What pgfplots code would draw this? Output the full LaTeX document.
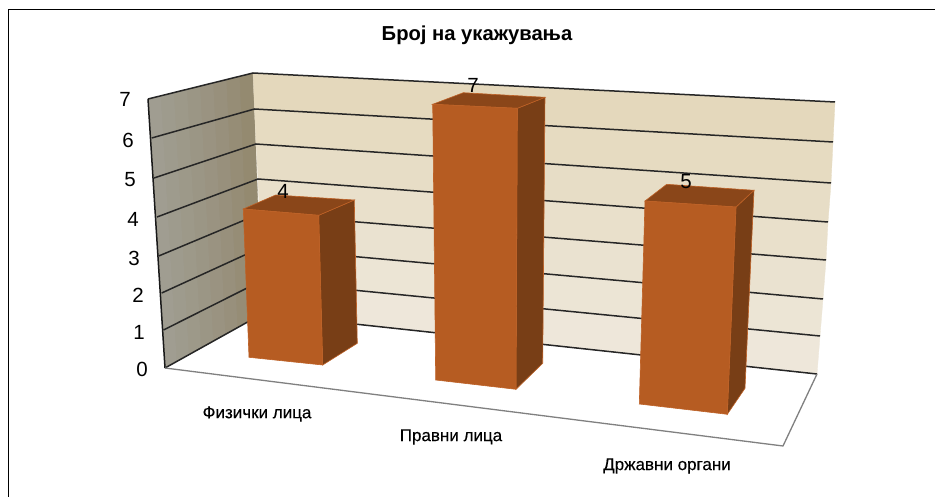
\documentclass[border=0pt]{standalone}
\usepackage{fontspec}
\setmainfont{Liberation Sans}
\newfontfamily\cf[FakeBold=0.25]{Liberation Sans}
\usepackage{pgfplots}
\pgfplotsset{compat=1.18}
\definecolor{barF}{RGB}{182,92,34}
\definecolor{barS}{RGB}{120,62,22}
\definecolor{barT}{RGB}{138,70,25}
\definecolor{barE}{RGB}{190,97,38}
\definecolor{lA}{RGB}{160,157,145}
\definecolor{lB}{RGB}{158,155,141}
\definecolor{lC}{RGB}{157,153,137}
\definecolor{lD}{RGB}{155,150,133}
\definecolor{lE}{RGB}{154,147,129}
\definecolor{lF}{RGB}{152,144,124}
\definecolor{lG}{RGB}{150,141,118}
\definecolor{lH}{RGB}{148,138,112}
\definecolor{bA}{RGB}{228,216,188}
\definecolor{bB}{RGB}{230,219,193}
\definecolor{bC}{RGB}{231,221,198}
\definecolor{bD}{RGB}{233,224,203}
\definecolor{bE}{RGB}{234,226,208}
\definecolor{bF}{RGB}{236,229,213}
\definecolor{bG}{RGB}{238,231,218}
\newcommand{\poly}[2]{\addplot[draw=#1,line width=0.3pt,fill=#1,forget plot] coordinates {#2} -- cycle;}
\newcommand{\barface}[2]{\addplot[draw=barE,line width=0.6pt,fill=#1,forget plot] coordinates {#2} -- cycle;}
\newcommand{\seg}[2]{\addplot[#1,forget plot,no marks] coordinates {#2};}
\begin{document}
\begin{tikzpicture}
\begin{axis}[
  scale only axis, width=935pt, height=497pt,
  xmin=0, xmax=935, ymin=0, ymax=497, y dir=reverse,
  hide axis, clip=true]
% page background, keeps the full picture size
\path[fill=white] (axis cs:0,0) rectangle (axis cs:935,497);
% left wall strips
\poly{lA}{(148,99)(161.6,95.75)(177.6,361.25)(165,368)}
\poly{lB}{(161.1,95.75)(174.75,92.5)(189.75,354.5)(177.1,361.25)}
\poly{lC}{(174.25,92.5)(187.9,89.25)(201.9,347.75)(189.25,354.5)}
\poly{lD}{(187.4,89.25)(201,86)(214,341)(201.4,347.75)}
\poly{lE}{(200.5,86)(214.1,82.75)(226.1,334.25)(213.5,341)}
\poly{lF}{(213.6,82.75)(227.25,79.5)(238.25,327.5)(225.6,334.25)}
\poly{lG}{(226.75,79.5)(240.4,76.25)(250.4,320.75)(237.75,327.5)}
\poly{lH}{(239.9,76.25)(253,73)(262,314)(249.9,320.75)}
% back wall bands
\poly{bA}{(253,73)(835,102)(833,142)(254.5,109)}
\poly{bB}{(254.5,109)(833,142)(831,183)(256,144)}
\poly{bC}{(256,144)(831,183)(828,222)(258,179)}
\poly{bD}{(258,179)(828,222)(826,260)(259,214)}
\poly{bE}{(259,214)(826,260)(823,299)(260,248)}
\poly{bF}{(260,248)(823,299)(820,336)(261,281)}
\poly{bG}{(261,281)(820,336)(817,374)(262,314)}
% gridlines
\seg{black!85,line width=1.5pt}{(148,99)(253,73)(835,102)}
\seg{black!85,line width=1.5pt}{(151.7,138)(254.5,109)(833,142)}
\seg{black!85,line width=1.5pt}{(154,178)(256,144)(831,183)}
\seg{black!85,line width=1.5pt}{(157,217)(258,179)(828,222)}
\seg{black!85,line width=1.5pt}{(158.7,256)(259,214)(826,260)}
\seg{black!85,line width=1.5pt}{(161.7,293)(260,248)(823,299)}
\seg{black!85,line width=1.5pt}{(163.5,330)(261,281)(820,336)}
\seg{black!85,line width=1.5pt}{(165,368)(262,314)(817,374)}
\seg{black!90,line width=1.5pt}{(148,99)(165,368)}
% floor
\seg{black!50,line width=1.3pt}{(165,368)(783,446)(817,374)}
% bars: value 4
\barface{barS}{(318.7,215.3)(354.3,200)(357.3,343.3)(322.7,365)}
\barface{barT}{(243.3,209)(275.7,195)(354.3,200)(318.7,215.3)}
\barface{barF}{(243.3,209)(318.7,215.3)(322.7,365)(249,357.3)}
% value 7
\barface{barS}{(517.3,108.3)(545,97.3)(542.7,363.3)(516,389.3)}
\barface{barT}{(432.7,104.3)(463.3,92.7)(545,97.3)(517.3,108.3)}
\barface{barF}{(432.7,104.3)(517.3,108.3)(516,389.3)(435.7,380)}
% value 5
\barface{barS}{(736,207)(754,190.3)(745,388.3)(727.3,414.3)}
\barface{barT}{(645,201)(666.7,184.3)(754,190.3)(736,207)}
\barface{barF}{(645,201)(736,207)(727.3,414.3)(639.3,404)}
% frame
\seg{black,line width=1.3pt}{(8.5,497)(8.5,9.5)(935,9.5)}
% text
\node[font=\fontsize{20.2}{22}\selectfont\bfseries] at (axis cs:477,35) {Број на укажувања};
\node[font=\fontsize{20.5}{22}\selectfont] at (axis cs:125,99) {7};
\node[font=\fontsize{20.5}{22}\selectfont] at (axis cs:128,140) {6};
\node[font=\fontsize{20.5}{22}\selectfont] at (axis cs:130,180) {5};
\node[font=\fontsize{20.5}{22}\selectfont] at (axis cs:133,219) {4};
\node[font=\fontsize{20.5}{22}\selectfont] at (axis cs:134,258) {3};
\node[font=\fontsize{20.5}{22}\selectfont] at (axis cs:138,295) {2};
\node[font=\fontsize{20.5}{22}\selectfont] at (axis cs:139,332) {1};
\node[font=\fontsize{20.5}{22}\selectfont] at (axis cs:142,369) {0};
\node[font=\fontsize{20.5}{22}\selectfont] at (axis cs:283,191) {4};
\node[font=\fontsize{20.5}{22}\selectfont] at (axis cs:473,85) {7};
\node[font=\fontsize{20.5}{22}\selectfont] at (axis cs:686,182) {5};
\node[font=\fontsize{17}{18}\selectfont\cf] at (axis cs:257,414) {Физички лица};
\node[font=\fontsize{17}{18}\selectfont\cf] at (axis cs:451,437) {Правни лица};
\node[font=\fontsize{17}{18}\selectfont\cf] at (axis cs:667,466) {Државни органи};
\end{axis}
\end{tikzpicture}
\end{document}
